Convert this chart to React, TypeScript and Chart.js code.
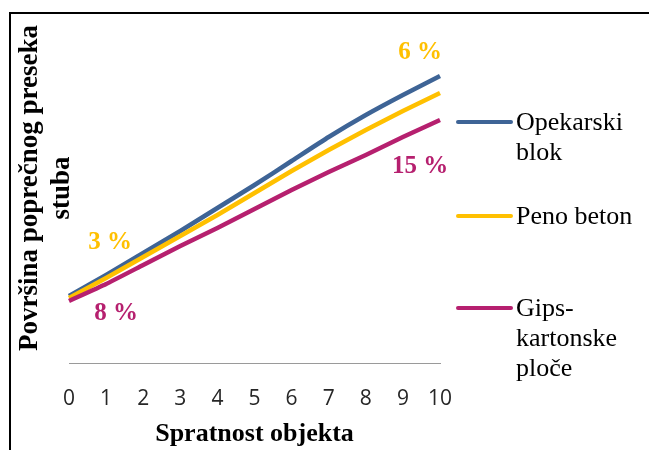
import React, { useEffect, useRef } from "react";
import { Chart, registerables } from "chart.js";

Chart.register(...registerables);

const floors = ["0", "1", "2", "3", "4", "5", "6", "7", "8", "9", "10"];
const seriesNames = ["Opekarski blok", "Peno beton", "Gips-kartonske ploče"];
const legendLines = [["Opekarski", "blok"], ["Peno beton"], ["Gips-", "kartonske", "ploče"]];
const opekarski = [13.4, 17.6, 22.0, 26.4, 31.0, 35.6, 40.4, 45.2, 49.6, 53.6, 57.4];
const penoBeton = [13.0, 17.0, 21.2, 25.4, 29.6, 34.0, 38.4, 42.6, 46.6, 50.4, 54.0];
const gipsKarton = [12.4, 15.8, 19.6, 23.4, 27.0, 30.8, 34.6, 38.2, 41.6, 45.2, 48.6];
const colors = ["#3E6496", "#FFC000", "#B6206F"];
const annotations = [
  { text: "6 %", series: 1, index: 10, anchor: 0, dx: -20, dy: -23 },
  { text: "15 %", series: 2, index: 10, anchor: 2, dx: -20, dy: 47 },
  { text: "3 %", series: 1, index: 1, anchor: 1, dx: 4, dy: -35 },
  { text: "8 %", series: 2, index: 1, anchor: 2, dx: 10, dy: 30 },
];

const SERIF = "'Liberation Serif', 'Times New Roman', serif";

const extrasPlugin = {
  id: "extras",
  afterDraw(chart: any) {
    const { ctx, scales } = chart;
    const xs = scales.x;
    const ys = scales.y;
    ctx.save();
    // frame
    ctx.strokeStyle = "#000";
    ctx.lineWidth = 2;
    ctx.beginPath();
    ctx.moveTo(10, 451);
    ctx.lineTo(10, 13);
    ctx.lineTo(650, 13);
    ctx.stroke();

    // data annotations
    ctx.font = `bold 25px ${SERIF}`;
    ctx.textAlign = "center";
    ctx.textBaseline = "middle";
    annotations.forEach((a) => {
      const data = chart.data.datasets[a.anchor].data as number[];
      const px = xs.getPixelForValue(a.index);
      const py = ys.getPixelForValue(data[a.index]);
      ctx.fillStyle = colors[a.series];
      ctx.fillText(a.text, px + a.dx, py + a.dy);
    });

    // legend
    const legendY = [122, 216, 308];
    ctx.font = `26px ${SERIF}`;
    ctx.textAlign = "left";
    ctx.textBaseline = "middle";
    legendLines.forEach((lines, i) => {
      ctx.strokeStyle = colors[i];
      ctx.lineWidth = 4;
      ctx.lineCap = "round";
      ctx.beginPath();
      ctx.moveTo(458, legendY[i]);
      ctx.lineTo(511, legendY[i]);
      ctx.stroke();
      ctx.fillStyle = "#000";
      lines.forEach((t, j) => {
        ctx.fillText(t, 516, legendY[i] + 1 + j * 30);
      });
    });
    ctx.restore();
  },
};

export default function App() {
  const ref = useRef<HTMLCanvasElement>(null);
  useEffect(() => {
    if (!ref.current) return;
    const chart = new Chart(ref.current, {
      type: "line",
      data: {
        labels: floors,
        datasets: [
          { label: seriesNames[0], data: opekarski, borderColor: colors[0], backgroundColor: colors[0], order: 2 },
          { label: seriesNames[1], data: penoBeton, borderColor: colors[1], backgroundColor: colors[1], order: 1 },
          { label: seriesNames[2], data: gipsKarton, borderColor: colors[2], backgroundColor: colors[2], order: 0 },
        ].map((d) => ({ ...d, borderWidth: 4.5, pointRadius: 0, tension: 0.15, fill: false })),
      },
      options: {
        responsive: false,
        animation: false,
        layout: { padding: { left: 10, right: 209, top: 13, bottom: 0 } },
        plugins: { legend: { display: false }, tooltip: { enabled: false } },
        scales: {
          x: {
            grid: { display: false, drawTicks: false },
            border: { display: true, color: "#9a9a9a", width: 1 },
            ticks: {
              color: "#262626",
              font: { family: "'Open Sans', sans-serif", size: 21 },
              padding: 23,
              maxRotation: 0,
              autoSkip: false,
            },
            title: {
              display: true,
              text: "Spratnost objekta",
              color: "#000",
              font: { family: SERIF, size: 26, weight: "bold", lineHeight: 1.2 },
              padding: { top: 0, bottom: 0 },
            },
            afterFit: (s: any) => {
              s.height = 87;
            },
          },
          y: {
            min: 0,
            max: 70,
            grid: { display: false, drawTicks: false },
            border: { display: false },
            ticks: { display: false },
            title: {
              display: true,
              text: ["Površina poprečnog preseka", "stuba"],
              color: "#000",
              font: { family: SERIF, size: 27, weight: "bold", lineHeight: 1.15 },
              padding: { top: 5, bottom: 0 },
            },
            afterFit: (s: any) => {
              s.width = 59;
            },
          },
        },
      },
      plugins: [extrasPlugin],
    });
    return () => chart.destroy();
  }, []);
  return (
    <canvas
      ref={ref}
      width={649}
      height={450}
      style={{ position: "absolute", left: 0, top: 0, display: "block", background: "#fff" }}
    />
  );
}
